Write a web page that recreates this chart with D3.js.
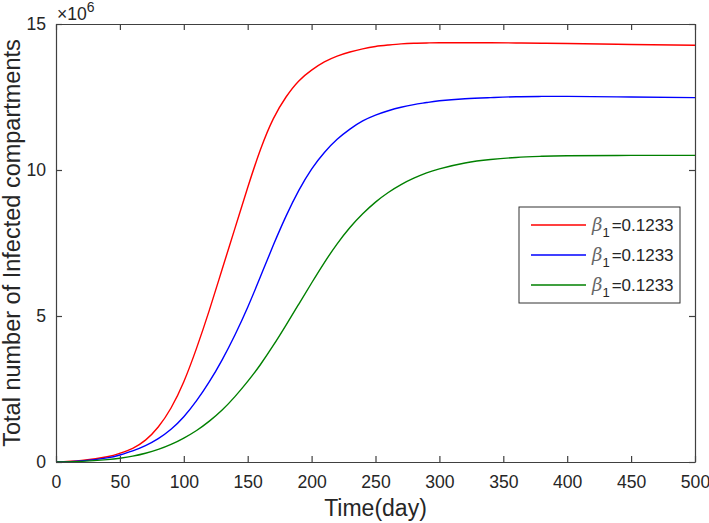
<!DOCTYPE html>
<html>
<head>
<meta charset="utf-8">
<script src="https://cdn.jsdelivr.net/npm/d3@7"></script>
<style>
  body { margin: 0; padding: 0; background: #fff; }
  svg { display: block; font-family: "Liberation Sans", Arial, sans-serif; }
</style>
</head>
<body>
<script>
// values, in millions (x10^6)
const days = [0, 20, 40, 50, 60, 70, 80, 90, 100, 110, 120, 130, 140, 150, 160, 170, 180, 190,
  200, 210, 220, 230, 240, 250, 260, 270, 280, 290, 300, 320, 340, 360, 380, 400, 450, 500]

const red = [0, 0.05, 0.18, 0.3, 0.47, 0.75, 1.2, 1.85, 2.75, 3.9, 5.2, 6.6, 8.0, 9.4, 10.7, 11.75, 12.5, 13.05,
  13.42, 13.7, 13.9, 14.04, 14.15, 14.23, 14.28, 14.32, 14.34, 14.35, 14.36, 14.36, 14.36, 14.35, 14.34, 14.33, 14.3, 14.27]

const blue = [0, 0.04, 0.14, 0.24, 0.38, 0.56, 0.8, 1.12, 1.55, 2.1, 2.75, 3.5, 4.35, 5.3, 6.35, 7.42, 8.42, 9.3,
  10.03, 10.6, 11.05, 11.4, 11.68, 11.88, 12.03, 12.15, 12.24, 12.31, 12.37, 12.44, 12.48, 12.51, 12.52, 12.52, 12.5, 12.48]

const green = [0, 0.02, 0.08, 0.13, 0.2, 0.3, 0.43, 0.6, 0.82, 1.08, 1.4, 1.78, 2.24, 2.76, 3.34, 3.99, 4.69, 5.41,
  6.13, 6.83, 7.47, 8.03, 8.5, 8.9, 9.23, 9.5, 9.72, 9.9, 10.04, 10.24, 10.36, 10.43, 10.47, 10.49, 10.5, 10.5]

const seriesNames = ["red", "blue", "green"]
const legendLabels = ["0.1233", "0.1233", "0.1233"]
const xTicks = [0, 50, 100, 150, 200, 250, 300, 350, 400, 450, 500]
const yTicks = [0, 5, 10, 15]

const width = 709
const height = 523
const margin = {left: 56, right: 14, top: 24, bottom: 61}

const svg = d3.select("body").append("svg")
  .attr("width", width)
  .attr("height", height)

const x = d3.scaleLinear().domain([0, 500]).range([margin.left, width - margin.right])
const y = d3.scaleLinear().domain([0, 15]).range([height - margin.bottom, margin.top])

const axisColor = "#404040"
const textColor = "#262626"

const line = d3.line()
  .x((d, i) => x(days[i]))
  .y(d => y(d))
  .curve(d3.curveNatural)

const colors = {red: "#ff0000", blue: "#0000ff", green: "#008000"}
const values = {red, blue, green}

svg.append("g")
  .selectAll("path")
  .data(seriesNames)
  .join("path")
  .attr("fill", "none")
  .attr("stroke", d => colors[d])
  .attr("stroke-width", 1.4)
  .attr("d", d => line(values[d]))

// axes, ticks pointing inwards on all four sides
const styleAxis = g => {
  g.attr("font-family", null)
  g.select(".domain").attr("stroke", axisColor).attr("stroke-width", 1.2)
  g.selectAll(".tick line").attr("stroke", axisColor).attr("stroke-width", 1.2)
  g.selectAll(".tick text").attr("fill", textColor).attr("font-size", "17.6px")
}

svg.append("g")
  .attr("transform", `translate(0,${y(0)})`)
  .call(d3.axisBottom(x).tickValues(xTicks).tickSize(-6).tickSizeOuter(0).tickPadding(14))
  .call(styleAxis)

svg.append("g")
  .attr("transform", `translate(0,${y(15)})`)
  .call(d3.axisTop(x).tickValues(xTicks).tickSize(-6).tickSizeOuter(0).tickFormat(""))
  .call(styleAxis)

svg.append("g")
  .attr("transform", `translate(${x(0)},0)`)
  .call(d3.axisLeft(y).tickValues(yTicks).tickSize(-6).tickSizeOuter(0).tickPadding(10))
  .call(styleAxis)

svg.append("g")
  .attr("transform", `translate(${x(500)},0)`)
  .call(d3.axisRight(y).tickValues(yTicks).tickSize(-6).tickSizeOuter(0).tickFormat(""))
  .call(styleAxis)

// exponent note
const expo = svg.append("text")
  .attr("x", x(0) + 1)
  .attr("y", 20)
  .attr("fill", textColor)
  .attr("font-size", "17.6px")
expo.append("tspan").text("\u00d710")
expo.append("tspan").attr("dy", -8).attr("font-size", "14px").text("6")

// axis titles
svg.append("text")
  .attr("x", (x(0) + x(500)) / 2)
  .attr("y", 516)
  .attr("text-anchor", "middle")
  .attr("fill", textColor)
  .attr("font-size", "23px")
  .text("Time(day)")

svg.append("text")
  .attr("transform", `translate(20,${(y(0) + y(15)) / 2}) rotate(-90)`)
  .attr("text-anchor", "middle")
  .attr("fill", textColor)
  .attr("font-size", "23.5px")
  .text("Total number of Infected compartments")

// legend
const legend = svg.append("g").attr("transform", "translate(519,207)")
legend.append("rect")
  .attr("width", 161)
  .attr("height", 96)
  .attr("fill", "#fff")
  .attr("stroke", "#333")
  .attr("stroke-width", 1)

const rows = legend.selectAll("g.row")
  .data(seriesNames)
  .join("g")
  .attr("class", "row")
  .attr("transform", (d, i) => `translate(0,${18 + i * 30})`)

rows.append("line")
  .attr("x1", 12).attr("x2", 67)
  .attr("stroke", d => colors[d])
  .attr("stroke-width", 1.4)

const label = rows.append("text")
  .attr("x", 73)
  .attr("y", 6)
  .attr("fill", textColor)
  .attr("font-size", "17px")
label.append("tspan")
  .attr("font-family", "'DejaVu Serif', serif")
  .attr("font-style", "italic")
  .attr("font-size", "18px")
  .attr("fill", "#666")
  .text("\u03b2")
label.append("tspan")
  .attr("dy", 6)
  .attr("font-size", "13px")
  .text("1")
label.append("tspan")
  .attr("dy", -6)
  .attr("dx", 2)
  .text((d, i) => "=" + legendLabels[i])
</script>
</body>
</html>
